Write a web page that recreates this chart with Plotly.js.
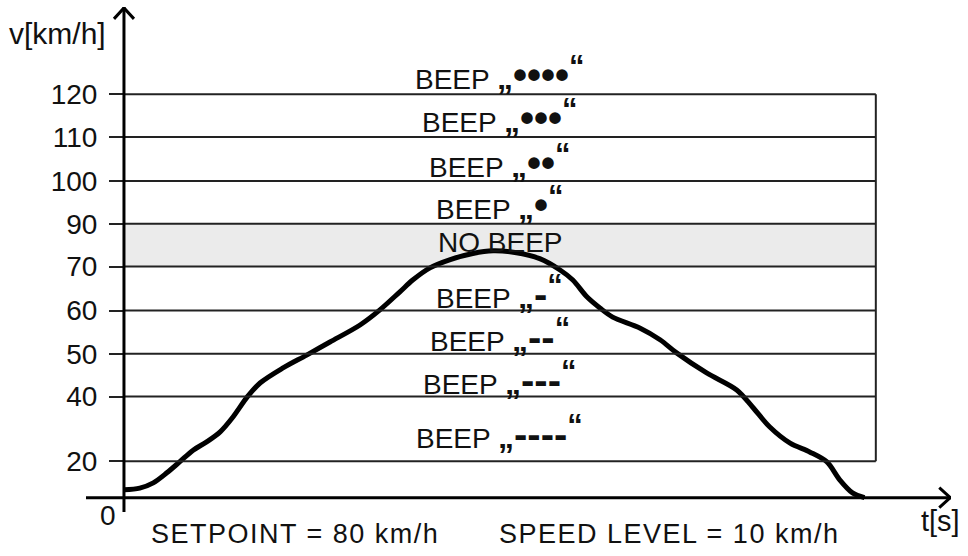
<!DOCTYPE html>
<html>
<head>
<meta charset="utf-8">
<script src="https://cdn.plot.ly/plotly-3.0.1.min.js"></script>
<style>html,body{margin:0;padding:0;background:#fff;}</style>
</head>
<body>
<div id="chart" style="width:968px;height:556px;"></div>
<script>
// Speed levels (km/h) and their drawn positions on the schematic axis
const tickLabels = ['20', '40', '50', '60', '70', '90', '100', '110', '120'];
const tickPos    = [8.35, 23.2, 33.0, 42.9, 53.0, 62.8, 72.6, 82.7, 92.5];

// Band labels (beep pattern) and their vertical positions
const bandPatterns = ['••••', '•••', '••', '•', null, '-', '--', '---', '----'];
const bandLabelPos = [97.3, 87.5, 77.3, 67.6, 58.4, 47.2, 37.3, 27.5, 15.1];

// Speed profile over time
const timeS = [0, 2.1, 3.9, 5.7, 7.4, 9.2, 11.0, 12.8, 14.5, 16.4, 18.1, 21.1, 24.3, 27.4, 31.4, 34.0, 36.7, 38.4, 40.7, 43.4, 46.4, 49.1, 52.0, 55.3, 58.0, 59.7, 61.6, 63.3, 65.0, 68.6, 71.3, 73.5, 77.5, 81.5, 83.6, 85.9, 88.6, 91.2, 93.5, 95.2, 96.9, 98.5];
const speed = [1.8, 2.2, 3.4, 5.7, 8.2, 10.9, 12.8, 15.1, 18.5, 23.1, 26.3, 29.7, 32.7, 35.7, 39.6, 43.0, 47.2, 49.9, 52.7, 54.6, 56.0, 56.6, 56.2, 54.8, 52.2, 49.9, 46.0, 43.5, 41.4, 38.9, 36.2, 33.2, 28.6, 24.7, 20.8, 16.2, 12.5, 10.5, 8.2, 4.1, 1.1, 0];

const FONT = 'Liberation Sans, Arial, sans-serif';
const boxLeft = 0, boxRight = 100;
const xMin = -5.05, xMax = 110.0, yMin = -3.28, yMax = 112.5;
const noBeepLow = tickPos[4], noBeepHigh = tickPos[5];

function bandText(p) {
  if (p === null) return 'NO BEEP';
  return 'BEEP <span style="font-size:32px"><b>„</b></span>' +
         '<span style="font-size:40px"><b>' + p + '</b></span>' +
         '<sup><span style="font-size:31px"><b>“</b></span></sup>';
}

const shapes = [];
shapes.push({type:'rect', xref:'x', yref:'y', x0:boxLeft, x1:boxRight, y0:noBeepLow, y1:noBeepHigh,
  fillcolor:'#ebebeb', line:{width:0}, layer:'below'});
tickPos.forEach(p => {
  shapes.push({type:'line', xref:'x', yref:'y', x0:boxLeft, x1:boxRight, y0:p, y1:p,
    line:{color:'#222', width:2}});
});
shapes.push({type:'line', xref:'x', yref:'y', x0:boxRight, x1:boxRight, y0:tickPos[0], y1:tickPos[tickPos.length-1],
  line:{color:'#222', width:2}});
// axes
shapes.push({type:'line', xref:'x', yref:'y', x0:xMin, x1:xMax, y0:0, y1:0, line:{color:'#000', width:3}});
shapes.push({type:'line', xref:'x', yref:'y', x0:0, x1:0, y0:yMin, y1:yMax, line:{color:'#000', width:3}});
// arrow heads (pixel-sized chevrons anchored at the axis tips)
shapes.push({type:'path', xref:'x', yref:'y', xsizemode:'pixel', ysizemode:'pixel', xanchor:xMax - 0.1, yanchor:0,
  path:'M-11,10 L0,0 L-11,-10', line:{color:'#000', width:3}});
shapes.push({type:'path', xref:'x', yref:'y', xsizemode:'pixel', ysizemode:'pixel', xanchor:0, yanchor:yMax - 0.2,
  path:'M-10,-11 L0,0 L10,-11', line:{color:'#000', width:3}});

const annotations = [];
bandPatterns.forEach((p, i) => {
  annotations.push({x:50, y:bandLabelPos[i], xref:'x', yref:'y', text:bandText(p), showarrow:false,
    xanchor:'center', yanchor:'middle', font:{family:FONT, size:28, color:'#111'}});
});
// axis texts (paper coordinates)
annotations.push({x:-0.0324, y:0.9485, xref:'paper', yref:'paper', text:'v[km/h]', showarrow:false,
  xanchor:'center', yanchor:'middle', font:{family:FONT, size:30, color:'#111'}});
annotations.push({x:0.9873, y:-0.0178, xref:'paper', yref:'paper', text:'t[s]', showarrow:false,
  xanchor:'center', yanchor:'middle', font:{family:FONT, size:29, color:'#111'}});
annotations.push({x:0.0254, y:-0.0079, xref:'paper', yref:'paper', text:'0', showarrow:false,
  xanchor:'center', yanchor:'middle', font:{family:FONT, size:28, color:'#111'}});
annotations.push({x:0.2416, y:-0.043, xref:'paper', yref:'paper', text:'<span style="letter-spacing:1.5px">SETPOINT = 80 km/h</span>', showarrow:false,
  xanchor:'center', yanchor:'middle', font:{family:FONT, size:27, color:'#111'}});
annotations.push({x:0.674, y:-0.043, xref:'paper', yref:'paper', text:'<span style="letter-spacing:1.5px">SPEED LEVEL = 10 km/h</span>', showarrow:false,
  xanchor:'center', yanchor:'middle', font:{family:FONT, size:27, color:'#111'}});

const data = [{
  x: timeS, y: speed, type:'scatter', mode:'lines',
  line:{color:'#000', width:5, shape:'spline', smoothing:0.9},
  hoverinfo:'skip'
}];

const layout = {
  width:968, height:556,
  margin:{l:86, r:17, t:7, b:44, pad:0},
  paper_bgcolor:'#fff', plot_bgcolor:'#fff',
  showlegend:false,
  xaxis:{range:[xMin, xMax], showgrid:false, zeroline:false, showline:false, showticklabels:false, ticks:''},
  yaxis:{range:[yMin, yMax], anchor:'free', position:0.0439, showgrid:false, zeroline:false, showline:false,
    tickvals:tickPos, ticktext:tickLabels, ticks:'outside', ticklen:15, tickwidth:2, tickcolor:'#222',
    ticklabelstandoff:6, tickfont:{family:FONT, size:28, color:'#111'}},
  shapes:shapes,
  annotations:annotations
};

Plotly.newPlot('chart', data, layout, {displayModeBar:false, staticPlot:true});
</script>
</body>
</html>
